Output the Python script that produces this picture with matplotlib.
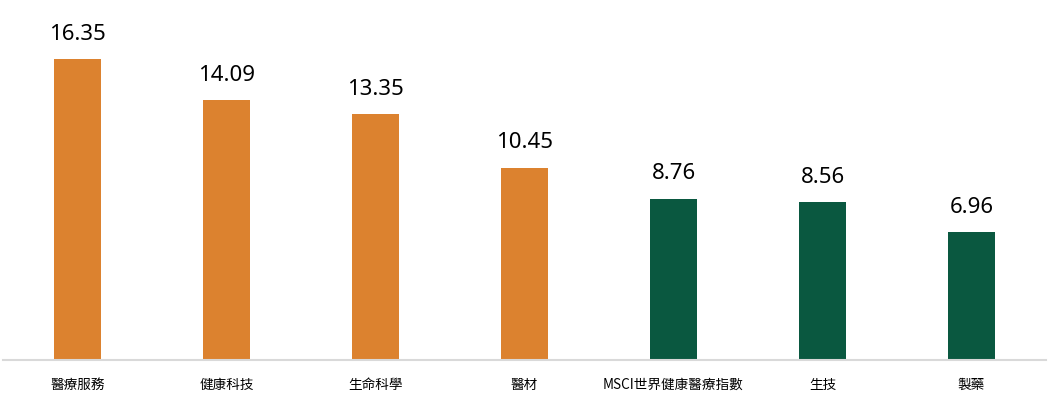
import matplotlib
matplotlib.use("Agg")
import matplotlib.pyplot as plt

# =============================
# Data
# =============================

categories = ["醫療服務", "健康科技", "生命科學", "醫材", "MSCI世界健康醫療指數", "生技", "製藥"]
values = [16.35, 14.09, 13.35, 10.45, 8.76, 8.56, 6.96]
groups = ["sector", "sector", "sector", "sector", "index", "index", "index"]

ORANGE = "#DC822F"
GREEN = "#0A5840"
colors = [ORANGE if g == "sector" else GREEN for g in groups]

# =============================
# Plot
# =============================

fig = plt.figure(figsize=(10.51, 4.10), dpi=100)
ax = fig.add_axes([3 / 1051, 49 / 410, 1043 / 1051, 361 / 410])

x = range(len(categories))
bars = ax.bar(x, values, width=0.315, color=colors)

for b, v in zip(bars, values):
    ax.annotate(f"{v:.2f}", (b.get_x() + b.get_width() / 2, v),
                xytext=(0, 11), textcoords="offset points",
                ha="center", va="bottom", fontsize=16,
                family=["Noto Sans", "DejaVu Sans"], color="#000000")

ax.set_xlim(-0.5, len(categories) - 0.5)
ax.set_ylim(0, 361 / 18.42)

ax.set_xticks(list(x))
ax.set_xticklabels(categories, family=["Noto Sans CJK TC", "DejaVu Sans"],
                   fontsize=9.8, color="#000000")
ax.tick_params(axis="x", length=0, pad=12)
ax.set_yticks([])

for side in ["top", "right", "left"]:
    ax.spines[side].set_visible(False)
ax.spines["bottom"].set_color("#D9D9D9")
ax.spines["bottom"].set_linewidth(1.5)

fig.savefig("out.png", dpi=100)
